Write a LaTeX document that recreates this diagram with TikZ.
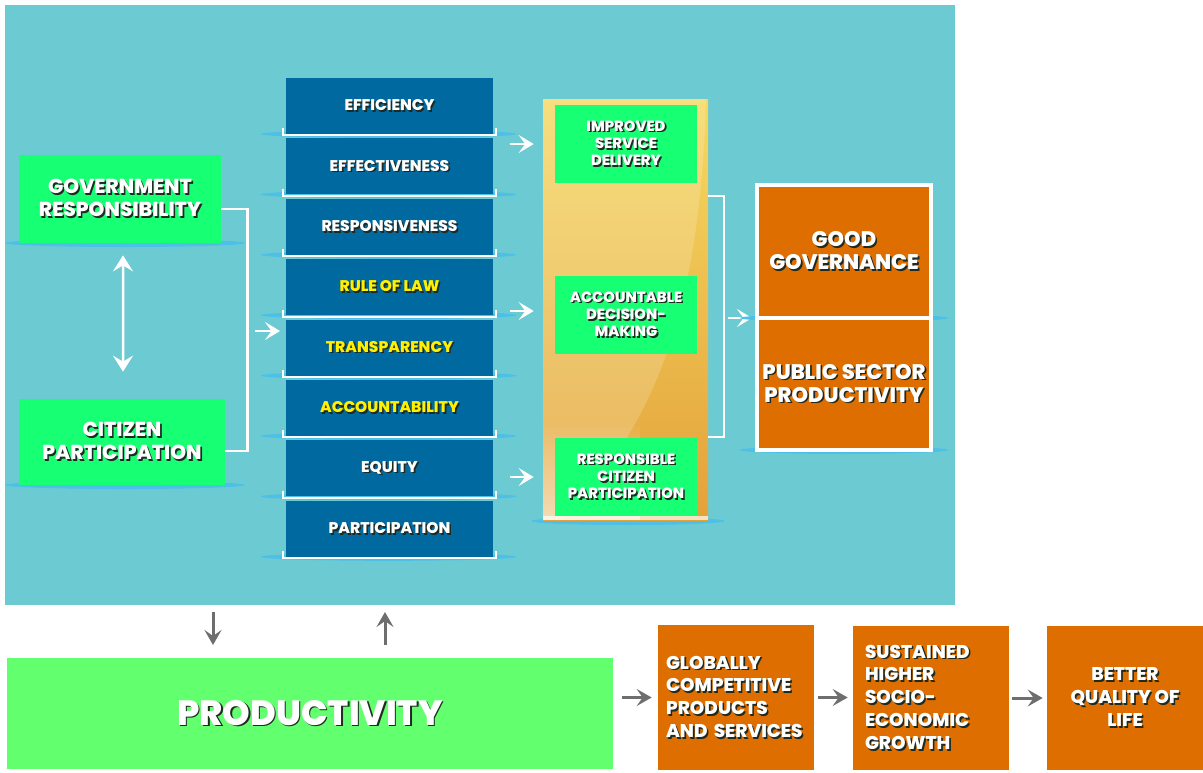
\documentclass[tikz,border=0pt]{standalone}
\usepackage{fontspec}
\setmainfont{Poppins}[BoldFont={Poppins ExtraBold}]
\usepackage{xcolor}
\usepackage{tikz}
\usetikzlibrary{
    arrows.meta,
    calc,
    fadings,
    positioning
}

\definecolor{panelteal}{HTML}{6CCBD2}
\definecolor{boxgreen}{HTML}{17FF73}
\definecolor{prodgreen}{HTML}{62FF6E}
\definecolor{boxblue}{HTML}{0069A0}
\definecolor{boxorange}{HTML}{DE6E00}
\definecolor{halo}{HTML}{4DC0E8}
\definecolor{lawyellow}{HTML}{FFF000}
\definecolor{arrowgray}{HTML}{6E6E6E}
\definecolor{goldtop}{HTML}{F5D862}
\definecolor{goldmid}{HTML}{EDBD48}
\definecolor{goldbot}{HTML}{E3A23A}
\definecolor{textshade}{HTML}{1E2A22}

% text with a drop shadow
\newcommand{\sh}[1]{\makebox[0pt][l]{\hspace{0.9pt}\raisebox{-0.9pt}{\color{textshade}#1}}#1}

\begin{document}
\begin{tikzpicture}[
    x=0.02cm, y=-0.02cm,
    lbl/.style={text=white, align=center, inner sep=0pt, font=\bfseries},
    sidebox/.style={lbl, fill=boxgreen, font=\bfseries\fontsize{11.5}{13}\selectfont},
    valuebox/.style={lbl, fill=boxblue, minimum width=4.14cm, minimum height=1.12cm,
        font=\bfseries\fontsize{8.8}{10}\selectfont},
    outcome/.style={lbl, fill=boxgreen, minimum width=2.84cm, minimum height=1.56cm,
        font=\bfseries\fontsize{8.4}{9.8}\selectfont},
    resultbox/.style={lbl, fill=boxorange, draw=white, line width=0.08cm, minimum width=3.48cm,
        font=\bfseries\fontsize{12}{13}\selectfont},
    impactbox/.style={lbl, fill=boxorange, minimum width=3.12cm, minimum height=2.88cm,
        font=\bfseries\fontsize{10.5}{13}\selectfont},
    rim/.style={draw=white, line width=0.04cm},
    bracket/.style={draw=white, line width=0.05cm},
    warrow/.style={draw=white, line width=0.05cm, -{Stealth[length=0.3cm, width=0.36cm, inset=0.13cm]}},
    wdouble/.style={draw=white, line width=0.05cm, {Stealth[length=0.32cm, width=0.4cm, inset=0.12cm]}-{Stealth[length=0.32cm, width=0.4cm, inset=0.12cm]}},
    garrow/.style={draw=arrowgray, line width=0.06cm, -{Stealth[length=0.3cm, width=0.34cm, inset=0.12cm]}}
]
\useasboundingbox (0,0) rectangle (1203,772);

% Background panel
\node[fill=panelteal, minimum width=19cm, minimum height=12cm, inner sep=0pt] (panel) at (480,305) {};

% Left side
\fill[halo] (125,243) ellipse [x radius=120, y radius=4];
\fill[halo] (125,485) ellipse [x radius=120, y radius=4];
\node[sidebox, minimum width=4.04cm, minimum height=1.76cm] (gov) at (120,199) {\sh{GOVERNMENT}\\\sh{RESPONSIBILITY}};
\node[sidebox, minimum width=4.12cm, minimum height=1.72cm] (cit) at (122,442) {\sh{CITIZEN}\\\sh{PARTICIPATION}};
\draw[wdouble, shorten <=0.24cm, shorten >=0.54cm] ([xshift=0.06cm]gov.south) -- ([xshift=0.02cm]cit.north);

\draw[bracket] ($(gov.east)+(0,10)$) -- ++(26,0) |- ($(cit.east)+(0,9)$);
\draw[warrow] (255,331) -- (280,331);

% Values column
\foreach \i/\word/\ink in {1/EFFICIENCY/white, 2/EFFECTIVENESS/white, 3/RESPONSIVENESS/white,
    4/RULE OF LAW/lawyellow, 5/TRANSPARENCY/lawyellow, 6/ACCOUNTABILITY/lawyellow,
    7/EQUITY/white, 8/PARTICIPATION/white} {
    \fill[halo] (388.5, {134+60.4*(\i-1)}) ellipse [x radius=128, y radius=4];
    \node[valuebox, text=\ink] (value-\i) at (389.5, {106+60.4*(\i-1)}) {\sh{\word}};
    \draw[rim] ($(value-\i.south west)+(-3,-6)$) |- ($(value-\i.south east)+(3,1)$) -- ++(0,-7);
}

% Outcomes column
\fill[halo] (628,521) ellipse [x radius=97, y radius=4];
\shade[top color=goldtop, middle color=goldmid, bottom color=goldbot] (543,99) rectangle (708,520);
\fill[white, opacity=0.18] (543,99) -- (706,99) .. controls (700,320) and (650,430) .. (562,520) -- (543,520) -- cycle;
\fill[white, opacity=0.55, path fading=north] (543,420) rectangle (640,520);
\fill[white, opacity=0.7] (543,516) rectangle (708,520);
\node[outcome] (imp) at (626,144) {\sh{IMPROVED}\\\sh{SERVICE}\\\sh{DELIVERY}};
\node[outcome] (acc) at (626,315) {\sh{ACCOUNTABLE}\\\sh{DECISION-}\\\sh{MAKING}};
\node[outcome] (rsp) at (626,477) {\sh{RESPONSIBLE}\\\sh{CITIZEN}\\\sh{PARTICIPATION}};

\draw[warrow] ([xshift=-0.9cm]imp.west) -- ([xshift=-0.42cm]imp.west);
\draw[warrow] ([xshift=-0.9cm, yshift=0.08cm]acc.west) -- ([xshift=-0.42cm, yshift=0.08cm]acc.west);
\draw[warrow] ([xshift=-0.9cm]rsp.west) -- ([xshift=-0.42cm]rsp.west);

\draw[bracket] (708,196) -- (724,196) -- (724,437) -- (708,437);
\draw[warrow] (728,318) -- (752,318);

% Results
\fill[halo] (844,318) ellipse [x radius=104, y radius=4];
\fill[halo] (844,450) ellipse [x radius=104, y radius=4];
\node[resultbox, minimum height=2.66cm] (gg) at (844,251.5) {\sh{GOOD}\\\sh{GOVERNANCE}};
\node[resultbox, minimum height=2.64cm] (psp) at (844,384) {\sh{PUBLIC SECTOR}\\\sh{PRODUCTIVITY}};

% Bottom chain
\node[lbl, fill=prodgreen, minimum width=12.12cm, minimum height=2.22cm,
    font=\bfseries\fontsize{20}{24}\selectfont] (prod) at (310,713.5) {\sh{PRODUCTIVITY}};
\draw[garrow] (213,612) -- (213,645);
\draw[garrow] (385,645) -- (385,612);

\node[impactbox, minimum height=2.9cm, text width=2.8cm, align=left] (glob) at (736,697.5)
    {\sh{GLOBALLY}\\\sh{COMPETITIVE}\\\sh{PRODUCTS}\\\sh{AND SERVICES}};
\node[impactbox, text width=2.64cm, align=left] (sust) at (931,698)
    {\sh{SUSTAINED}\\\sh{HIGHER}\\\sh{SOCIO-}\\\sh{ECONOMIC}\\\sh{GROWTH}};
\node[impactbox] (life) at (1125,698) {\sh{BETTER}\\\sh{QUALITY OF}\\\sh{LIFE}};

\draw[garrow, shorten <=0.18cm, shorten >=0.12cm] (prod.east |- glob.west) -- (glob.west);
\draw[garrow, shorten <=0.08cm, shorten >=0.1cm] (glob.east) -- (sust.west |- glob.east);
\draw[garrow, shorten <=0.06cm, shorten >=0.08cm] (sust.east) -- (life.west);

\end{tikzpicture}
\end{document}
